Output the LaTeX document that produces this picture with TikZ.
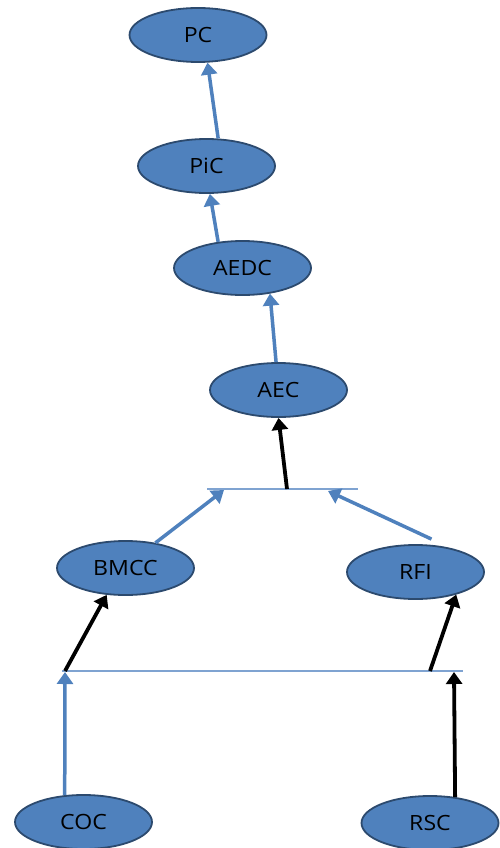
\documentclass[tikz,border=0pt]{standalone}
\usepackage{fontspec}
\setmainfont{Open Sans}[FakeStretch=1.1]
\usetikzlibrary{shapes.geometric,arrows.meta}

\definecolor{nodeblue}{HTML}{4F81BD}
\definecolor{nodeedge}{HTML}{2C4A6E}
\definecolor{barblue}{HTML}{7FA3D1}

\tikzset{
	concept/.style={ellipse, draw=nodeedge, fill=nodeblue, line width=1.8pt,
		minimum width=137pt, minimum height=54pt, inner sep=0pt,
		font=\fontsize{21}{24}\selectfont},
	bluearrow/.style={draw=nodeblue, line width=3.5pt, -{Triangle[width=16pt,length=12pt]}},
	blackarrow/.style={draw=black, line width=3.8pt, -{Triangle[width=16pt,length=12pt]}},
	joinbar/.style={draw=barblue, line width=1.3pt},
}

\begin{document}
\begin{tikzpicture}[x=1pt, y=-1pt]
	\useasboundingbox (0,0) rectangle (499,848);
	
	% Concepts
	\node[concept] (pc) at (198, 35) {PC};
	\node[concept] (pic) at (206.5, 166) {PiC};
	\node[concept] (aedc) at (242.5, 268) {AEDC};
	\node[concept] (aec) at (278.5, 390) {AEC};
	
	\node[concept] (bmcc) at (125.5, 568) {BMCC};
	\node[concept] (rfi) at (415.5, 572) {RFI};
	
	\node[concept] (coc) at (83.5, 822) {COC};
	\node[concept] (rsc) at (430, 823) {RSC};
	
	% Joining bars
	\coordinate (upleft) at (207, 489);
	\coordinate (upright) at (358, 489);
	\coordinate (upinl) at (224, 490);
	\coordinate (upinr) at (328, 491);
	\coordinate (upout) at (287, 489);
	
	\coordinate (lowleft) at (62, 671);
	\coordinate (lowright) at (463, 671);
	\coordinate (lowinl) at (65, 672);
	\coordinate (lowinr) at (454, 672);
	\coordinate (lowoutl) at (65, 671);
	\coordinate (lowoutr) at (430, 671);
	
	\draw[joinbar] (upleft) -- (upright); % top bar
	\draw[joinbar] (lowleft) -- (lowright); % bottom bar
	
	% Chain upwards
	\draw[bluearrow] (pic.67) -- (pc.-71);
	\draw[bluearrow] (aedc.133) -- (pic.-83);
	\draw[bluearrow] (aec.95) -- (aedc.-43);
	\draw[blackarrow] (upout) -- (aec.south);
	
	% Into the top bar
	\draw[bluearrow] (bmcc.40) -- (upinl);
	\draw[bluearrow] ([shift={(16pt,5pt)}]rfi.north) -- (upinr);
	
	% Out of the bottom bar
	\draw[blackarrow] (lowoutl) -- (bmcc.-125);
	\draw[blackarrow] (lowoutr) -- (rfi.-29);
	
	% Into the bottom bar
	\draw[bluearrow] (coc.125) -- (lowinl);
	\draw[blackarrow] (rsc.46) -- (lowinr);
\end{tikzpicture}
\end{document}
